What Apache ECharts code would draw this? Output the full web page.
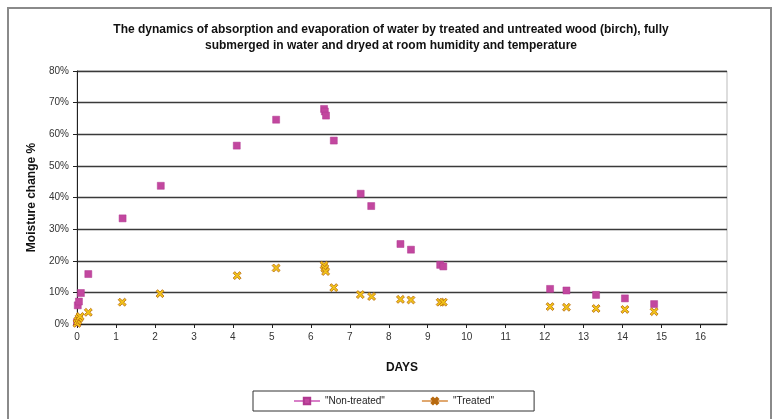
<!DOCTYPE html>
<html><head><meta charset="utf-8">
<script src="https://cdn.jsdelivr.net/npm/echarts@6/dist/echarts.min.js"></script>
<style>html,body{margin:0;padding:0;background:#fff}#c{width:776px;height:419px}</style>
</head><body><div id="c"></div>
<script>
const titleText = 'The dynamics of absorption and evaporation of water by treated and untreated wood (birch), fully\nsubmerged in water and dryed at room humidity and temperature';
const seriesNames = ['"Non-treated"', '"Treated"'];
const nonTreatedDays = [0, 0.02, 0.05, 0.1, 0.29, 1.17, 2.15, 4.1, 5.11, 6.34, 6.36, 6.39, 6.59, 7.28, 7.55, 8.3, 8.57, 9.32, 9.4, 12.14, 12.56, 13.32, 14.06, 14.81];
const nonTreatedVals = [0.5, 5.9, 7.1, 9.8, 15.8, 33.4, 43.7, 56.4, 64.6, 68.0, 67.2, 65.9, 58.0, 41.2, 37.3, 25.3, 23.5, 18.7, 18.2, 11.1, 10.6, 9.2, 8.1, 6.3];
const treatedDays = [0, 0.02, 0.05, 0.08, 0.29, 1.16, 2.13, 4.11, 5.11, 6.34, 6.36, 6.38, 6.59, 7.27, 7.56, 8.3, 8.57, 9.32, 9.4, 12.14, 12.56, 13.32, 14.06, 14.81];
const treatedVals = [0.2, 1.0, 1.8, 2.4, 3.7, 6.9, 9.6, 15.3, 17.7, 18.6, 17.6, 16.6, 11.5, 9.3, 8.7, 7.8, 7.6, 6.9, 6.9, 5.5, 5.3, 4.9, 4.6, 3.9];
const yTicks = [0, 10, 20, 30, 40, 50, 60, 70, 80];

const pair = (xs, ys) => xs.map((x, i) => [x, ys[i]]);
const xPath = 'path://M0,2L2,0L5,3L8,0L10,2L7,5L10,8L8,10L5,7L2,10L0,8L3,5Z';
const FONT = 'Liberation Sans, Arial, sans-serif';
const chart = echarts.init(document.getElementById('c'));
chart.setOption({
  animation: false,
  backgroundColor: '#fff',
  title: {
    text: titleText, left: 386, textAlign: 'center', top: 17,
    textStyle: {fontFamily: FONT, fontWeight: 'bold', fontSize: 12, lineHeight: 16, color: '#111'}
  },
  graphic: [{type: 'rect', shape: {x: 8, y: 8, width: 763, height: 420}, style: {fill: 'none', stroke: '#8a8a8a', lineWidth: 2}, silent: true}],
  legend: {
    left: 253, top: 391, padding: [5, 40, 5, 40], itemGap: 36,
    borderColor: '#333', borderWidth: 1, itemWidth: 26, itemHeight: 8,
    textStyle: {fontFamily: FONT, fontSize: 10, color: '#222'},
    data: [
      {name: seriesNames[0], lineStyle: {color: '#d880c8', width: 2, opacity: 1}},
      {name: seriesNames[1], lineStyle: {color: '#e0a870', width: 2, opacity: 1}}
    ]
  },
  grid: {left: 77, right: 49, top: 71, bottom: 95, show: true, borderColor: '#bbb', borderWidth: 1},
  xAxis: {
    type: 'value', min: 0, max: 16.68, interval: 1,
    name: 'DAYS', nameLocation: 'middle', nameGap: 38,
    nameTextStyle: {fontFamily: FONT, fontWeight: 'bold', fontSize: 12, color: '#111'},
    axisLine: {lineStyle: {color: '#222', width: 1}},
    axisTick: {show: true, length: 4, lineStyle: {color: '#222'}},
    axisLabel: {showMaxLabel: false, fontFamily: FONT, fontSize: 10, color: '#333', margin: 8},
    splitLine: {show: false}
  },
  yAxis: {
    type: 'value', min: 0, max: 80, interval: 10,
    name: 'Moisture change %', nameLocation: 'middle', nameGap: 38,
    nameTextStyle: {fontFamily: FONT, fontWeight: 'bold', fontSize: 12, color: '#111'},
    axisLine: {show: true, lineStyle: {color: '#222', width: 1}},
    axisTick: {show: true, length: 4, lineStyle: {color: '#222'}},
    axisLabel: {formatter: v => yTicks.includes(v) ? v + '%' : '', fontFamily: FONT, fontSize: 10, color: '#333', margin: 8},
    splitLine: {show: true, lineStyle: {color: '#3a3a3a', width: 1.3}}
  },
  series: [
    {
      name: seriesNames[0], type: 'line', data: pair(nonTreatedDays, nonTreatedVals),
      symbol: 'rect', symbolSize: 7, showAllSymbol: true,
      lineStyle: {width: 0, opacity: 0},
      itemStyle: {color: '#c2479f', borderColor: '#b03890', borderWidth: 0.5}
    },
    {
      name: seriesNames[1], type: 'line', data: pair(treatedDays, treatedVals),
      symbol: xPath, symbolSize: 8, showAllSymbol: true,
      lineStyle: {width: 0, opacity: 0},
      itemStyle: {color: '#f2c418', borderColor: '#b86a10', borderWidth: 0.8}
    }
  ]
});
</script></body></html>
